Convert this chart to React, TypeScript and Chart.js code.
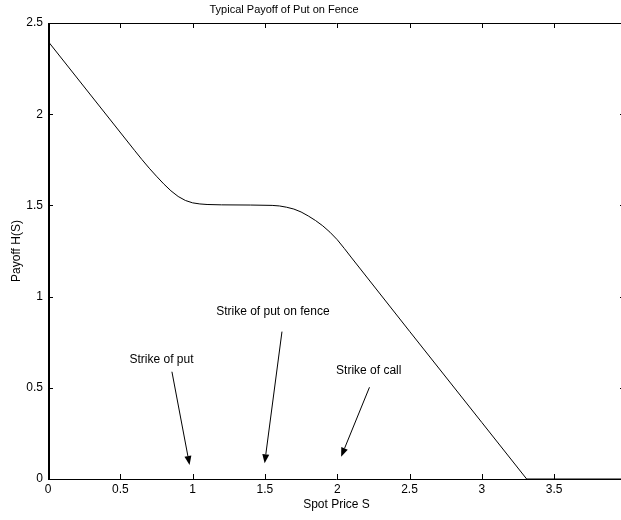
import React, { useEffect, useRef } from "react";
import { Chart, registerables } from "chart.js";

Chart.register(...registerables);

// ---- data ----
const spotPrices = [0, 0.3, 0.6, 0.65, 0.7, 0.75, 0.8, 0.85, 0.9, 0.95, 1.0, 1.05, 1.1, 1.2, 1.4, 1.55, 1.6, 1.65, 1.7, 1.75, 1.8, 1.85, 1.9, 1.95, 2.0, 2.05, 2.1, 2.5, 3.0, 3.31, 3.99];
const payoffs = [2.4, 2.1, 1.8, 1.751, 1.704, 1.66, 1.618, 1.58, 1.549, 1.527, 1.514, 1.508, 1.505, 1.503, 1.502, 1.5, 1.497, 1.49, 1.48, 1.464, 1.442, 1.417, 1.388, 1.353, 1.312, 1.263, 1.212, 0.81, 0.31, 0, 0];

const xTicks = [0, 0.5, 1, 1.5, 2, 2.5, 3, 3.5];
const yTicks = [0, 0.5, 1, 1.5, 2, 2.5];

const chartTitle = "Typical Payoff of Put on Fence";
const xLabel = "Spot Price S";
const yLabel = "Payoff H(S)";

const noteTexts = ["Strike of put", "Strike of put on fence", "Strike of call"];
const noteX = [0.785, 1.555, 2.218];
const noteY = [0.652, 0.917, 0.594];
const arrowFromX = [0.857, 1.618, 2.223];
const arrowFromY = [0.588, 0.808, 0.503];
const arrowToX = [0.979, 1.498, 2.027];
const arrowToY = [0.077, 0.086, 0.122];

const FONT = "'Liberation Sans', Arial, Helvetica, sans-serif";

const framePlugin = {
  id: "matlabFrame",
  afterDraw(chart: any) {
    const { ctx, chartArea: a, scales } = chart;
    const xs = scales.x;
    const ys = scales.y;
    ctx.save();
    ctx.strokeStyle = "#000";
    ctx.lineWidth = 1;
    // box
    ctx.beginPath();
    ctx.moveTo(a.left, a.top + 0.5);
    ctx.lineTo(a.right, a.top + 0.5);
    ctx.moveTo(a.left, a.bottom + 0.5);
    ctx.lineTo(a.right, a.bottom + 0.5);
    ctx.moveTo(a.right + 0.5, a.top);
    ctx.lineTo(a.right + 0.5, a.bottom);
    ctx.stroke();
    ctx.lineWidth = 2;
    ctx.beginPath();
    ctx.moveTo(a.left + 1, a.top);
    ctx.lineTo(a.left + 1, a.bottom + 1);
    ctx.stroke();
    // inward ticks
    ctx.lineWidth = 1;
    ctx.beginPath();
    xs.ticks.forEach((t: any) => {
      const px = Math.round(xs.getPixelForValue(t.value)) + 0.5;
      ctx.moveTo(px, a.bottom);
      ctx.lineTo(px, a.bottom - 5);
      ctx.moveTo(px, a.top);
      ctx.lineTo(px, a.top + 5);
    });
    ys.ticks.forEach((t: any) => {
      const py = Math.round(ys.getPixelForValue(t.value)) + 0.5;
      ctx.moveTo(a.left, py);
      ctx.lineTo(a.left + 5, py);
      ctx.moveTo(a.right, py);
      ctx.lineTo(a.right - 5, py);
    });
    ctx.stroke();

    // title
    ctx.fillStyle = "#000";
    ctx.font = `11px ${FONT}`;
    ctx.textAlign = "center";
    ctx.textBaseline = "middle";
    ctx.fillText(chartTitle, 284, 10);

    // annotations
    ctx.font = `12px ${FONT}`;
    for (let i = 0; i < noteTexts.length; i++) {
      ctx.fillText(noteTexts[i], xs.getPixelForValue(noteX[i]), ys.getPixelForValue(noteY[i]));
      const x1 = xs.getPixelForValue(arrowFromX[i]);
      const y1 = ys.getPixelForValue(arrowFromY[i]);
      const x2 = xs.getPixelForValue(arrowToX[i]);
      const y2 = ys.getPixelForValue(arrowToY[i]);
      const ang = Math.atan2(y2 - y1, x2 - x1);
      const len = 9;
      const hw = 3.5;
      const bx = x2 - len * Math.cos(ang);
      const by = y2 - len * Math.sin(ang);
      ctx.beginPath();
      ctx.moveTo(x1, y1);
      ctx.lineTo(bx, by);
      ctx.stroke();
      ctx.beginPath();
      ctx.moveTo(x2, y2);
      ctx.lineTo(bx + hw * Math.sin(ang), by - hw * Math.cos(ang));
      ctx.lineTo(bx - hw * Math.sin(ang), by + hw * Math.cos(ang));
      ctx.closePath();
      ctx.fill();
    }
    ctx.restore();
  },
};

const fmt = (v: any) => String(Number(v));

export default function App() {
  const ref = useRef<HTMLCanvasElement | null>(null);
  useEffect(() => {
    if (!ref.current) return;
    const points = spotPrices.map((s, i) => ({ x: s, y: payoffs[i] }));
    const chart = new Chart(ref.current, {
      type: "scatter",
      data: {
        datasets: [
          {
            data: points,
            showLine: true,
            borderColor: "#000",
            borderWidth: 1,
            pointRadius: 0,
            tension: 0,
          } as any,
        ],
      },
      options: {
        responsive: false,
        animation: false,
        layout: { padding: { top: 23, right: 15, left: 0, bottom: 0 } },
        plugins: { legend: { display: false }, tooltip: { enabled: false }, title: { display: false } },
        scales: {
          x: {
            type: "linear",
            min: 0,
            max: 3.99,
            grid: { display: false, drawTicks: false },
            border: { display: false },
            afterBuildTicks: (s: any) => {
              s.ticks = xTicks.map((v) => ({ value: v }));
            },
            afterFit: (s: any) => {
              s.height = 41;
            },
            ticks: { padding: 3, color: "#000", font: { family: FONT, size: 12 }, maxRotation: 0, callback: fmt },
            title: { display: true, text: xLabel, color: "#000", font: { family: FONT, size: 12 }, padding: { top: 0, bottom: 8 } },
          },
          y: {
            type: "linear",
            min: 0,
            max: 2.5,
            grid: { display: false, drawTicks: false },
            border: { display: false },
            afterBuildTicks: (s: any) => {
              s.ticks = yTicks.map((v) => ({ value: v }));
            },
            afterFit: (s: any) => {
              s.width = 48;
            },
            ticks: { padding: 5, color: "#000", font: { family: FONT, size: 12 }, callback: fmt },
            title: { display: true, text: yLabel, color: "#000", font: { family: FONT, size: 12 }, padding: { top: 9, bottom: 0 } },
          },
        },
      },
      plugins: [framePlugin],
    });
    return () => chart.destroy();
  }, []);
  return (
    <div style={{ position: "fixed", left: 0, top: 0, width: 621, height: 520, overflow: "hidden", background: "#fff" }}>
      <canvas ref={ref} width={640} height={520} style={{ display: "block" }} />
    </div>
  );
}
